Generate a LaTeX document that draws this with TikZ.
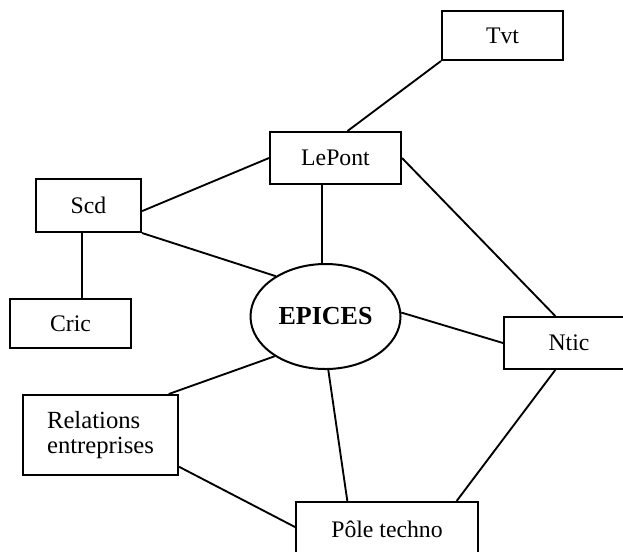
\documentclass[tikz,border=0pt]{standalone}
\usepackage{fontspec}
\setmainfont{Liberation Serif}
\usetikzlibrary{shapes.geometric}

\tikzset{
  unit/.style={draw, line width=1.5pt, inner sep=0pt, align=center,
    font=\fontsize{17.8}{20}\selectfont},
  hub/.style={draw, ellipse, line width=1.5pt, inner sep=0pt,
    minimum width=112.5pt, minimum height=78.75pt,
    font=\fontsize{19.5}{22}\selectfont\bfseries},
  link/.style={line width=1.4pt}
}

\begin{document}
\begin{tikzpicture}[x=0.75pt, y=-0.75pt]
  \clip (0,0) rectangle (623,551);
  \fill[white] (0,0) rectangle (623,551);

  % organisation units
  \node[unit, minimum width=90.75pt, minimum height=36.75pt] (tvt) at (502.5,35.5) {Tvt};
  \node[unit, minimum width=98.25pt, minimum height=39pt] (lepont) at (335.5,158) {LePont};
  \node[unit, minimum width=78.75pt, minimum height=39.75pt] (scd) at (88.5,205.5) {Scd};
  \node[unit, minimum width=90.75pt, minimum height=36.75pt] (cric) at (70.5,323.5) {Cric};
  \node[unit, minimum width=97.5pt, minimum height=39pt] (ntic) at (569,343) {Ntic};
  \node[unit, minimum width=116.25pt, minimum height=60pt, align=left,
        font=\fontsize{18.5}{18.8}\selectfont] (rel) at (100.5,435)
        {\raisebox{-2pt}{Relations}\\\raisebox{-2pt}{entreprises}};
  \node[unit, minimum width=136.5pt, minimum height=45pt] (pole) at (387,532)
        {\raisebox{3.75pt}{Pôle techno}};

  % central project
  \node[hub] (epices) at (325.5,316.5) {EPICES};

  % links
  \draw[link] (tvt.south west) -- (lepont.66);
  \draw[link] (scd.-6) -- (lepont.west);
  \draw[link] (scd.south east) -- (epices.141);
  \draw[link] (scd.-104) -- (scd.-104 |- cric.north);
  \draw[link] (lepont.243) -- (lepont.243 |- epices.north);
  \draw[link] (lepont.east) -- (ntic.117);
  \draw[link] (epices.3) -- (ntic.west);
  \draw[link] (ntic.243) -- (pole.24.4);
  \draw[link] (epices.273) -- (pole.142.4);
  \draw[link] (rel.31) -- (epices.218);
  \draw[link] (rel.-22) -- ([yshift=3.75pt]pole.west);
\end{tikzpicture}
\end{document}
